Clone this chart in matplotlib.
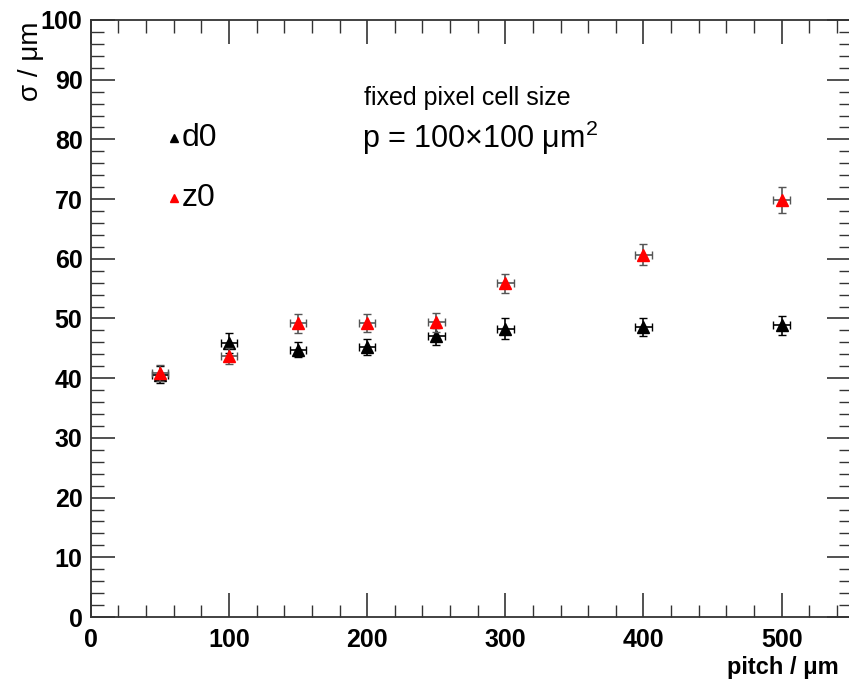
import matplotlib
matplotlib.use("Agg")
import matplotlib.pyplot as plt
from matplotlib.ticker import MultipleLocator

pitch = [50, 100, 150, 200, 250, 300, 400, 500]
d0 = [40.6, 45.9, 44.8, 45.2, 47.0, 48.3, 48.5, 48.9]
d0_err = [1.4, 1.6, 1.3, 1.3, 1.4, 1.7, 1.5, 1.6]
z0 = [40.9, 43.7, 49.2, 49.2, 49.4, 55.9, 60.7, 69.9]
z0_err = [1.3, 1.3, 1.6, 1.5, 1.6, 1.6, 1.8, 2.2]
x_err = [6, 6, 6, 6, 6, 6, 6, 6]

plt.rcParams['font.family'] = ['Liberation Sans', 'DejaVu Sans']
plt.rcParams['mathtext.fontset'] = 'custom'
plt.rcParams['mathtext.rm'] = 'Liberation Sans'

fig = plt.figure(figsize=(8.49, 6.82), dpi=100)
ax = fig.add_axes([0.107, 0.0953, 0.895, 0.8754])

ax.errorbar(pitch, d0, yerr=d0_err, xerr=x_err, fmt='^', color='black',
            ecolor='black', elinewidth=1.2, capsize=3, markersize=8, zorder=3)
ax.errorbar(pitch, z0, yerr=z0_err, xerr=x_err, fmt='^', color='red',
            mec='red', ecolor='#555555', elinewidth=1.2, capsize=3, markersize=8, zorder=4)

ax.set_xlim(0, 550)
ax.set_ylim(0, 100)
ax.xaxis.set_major_locator(MultipleLocator(100))
ax.xaxis.set_minor_locator(MultipleLocator(20))
ax.yaxis.set_major_locator(MultipleLocator(10))
ax.yaxis.set_minor_locator(MultipleLocator(2))
ax.tick_params(which='both', direction='in', top=True, right=True, color='#333333')
ax.tick_params(which='major', length=17, width=1.2, labelsize=18, pad=6)
ax.tick_params(axis='x', which='major', pad=8)
ax.tick_params(which='minor', length=9, width=1.0)
for lab in ax.get_xticklabels() + ax.get_yticklabels():
    lab.set_fontweight('bold')
for s in ax.spines.values():
    s.set_color('#333333')
    s.set_linewidth(1.3)

fig.text(0.988, 0.004, 'pitch / μm', ha='right', va='bottom', fontsize=17, fontweight='bold')
fig.text(0.036, 0.968, 'σ / μm', ha='center', va='top', rotation=90, fontsize=20)

ax.text(198, 87.0, 'fixed pixel cell size', ha='left', va='center', fontsize=18)
ax.text(196, 80.3, 'p = 100×100 μm$^2$', ha='left', va='center', fontsize=22)

ax.plot([60], [80.2], '^', color='black', markersize=6, clip_on=False)
ax.text(66, 80.2, 'd0', ha='left', va='center', fontsize=23)
ax.plot([60], [70.2], '^', color='red', markersize=6, clip_on=False)
ax.text(66, 70.2, 'z0', ha='left', va='center', fontsize=23)

fig.savefig('out.png', dpi=100)
